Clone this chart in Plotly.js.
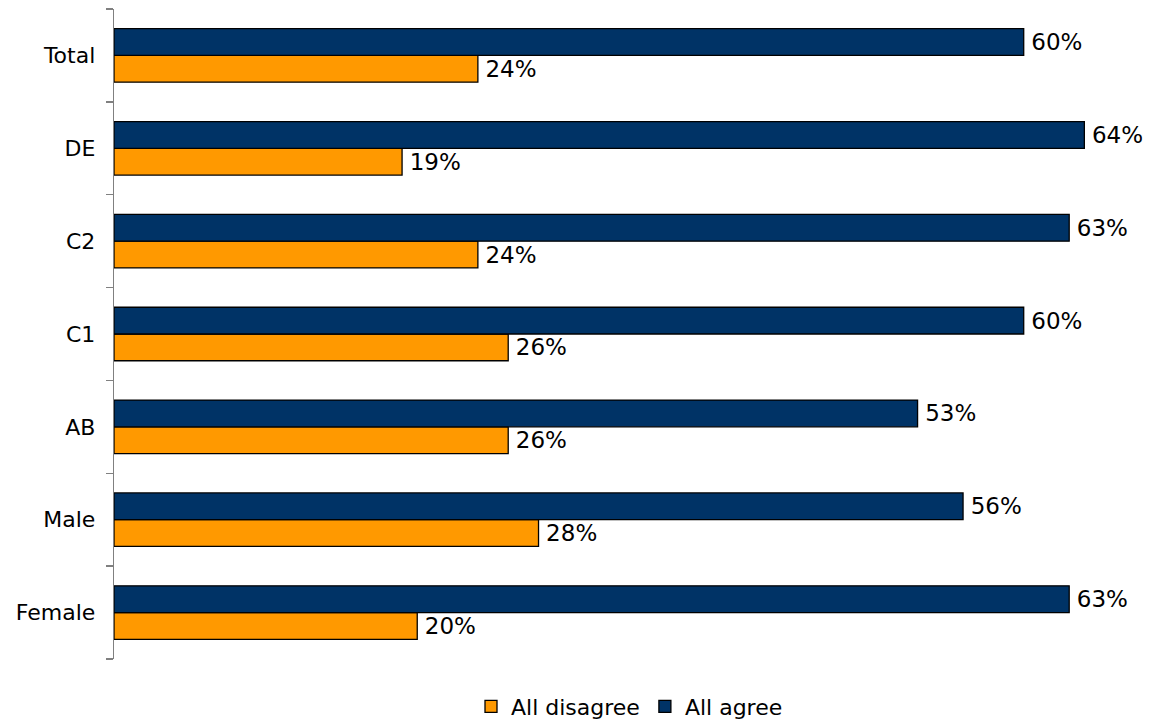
<!DOCTYPE html>
<html>
<head>
<meta charset="utf-8">
<script src="https://cdn.plot.ly/plotly-3.0.1.min.js"></script>
<style>html,body{margin:0;padding:0;background:#fff;}#chart{width:1154px;height:724px;}</style>
</head>
<body>
<div id="chart"></div>
<script>
// Categories, top to bottom as shown
const categories = ["Total", "DE", "C2", "C1", "AB", "Male", "Female"];
const allAgree = [60, 64, 63, 60, 53, 56, 63];
const allDisagree = [24, 19, 24, 26, 26, 28, 20];
const seriesNames = ["All disagree", "All agree"];

// Plotly draws categories bottom-up, so reverse for display
const cats = categories.slice().reverse();
const agree = allAgree.slice().reverse();
const disagree = allDisagree.slice().reverse();

const font = "DejaVu Sans, Tahoma, sans-serif";
const lbl = v => "\u2009" + v + "%";

const traces = [
  {
    type: "bar", orientation: "h", name: seriesNames[0],
    y: cats, x: disagree,
    text: disagree.map(lbl), textposition: "outside", constraintext: "none",
    textfont: {family: font, size: 23, color: "#000"},
    marker: {color: "#FF9900", line: {color: "#000", width: 1.3}},
    cliponaxis: false, hoverinfo: "skip"
  },
  {
    type: "bar", orientation: "h", name: seriesNames[1],
    y: cats, x: agree,
    text: agree.map(lbl), textposition: "outside", constraintext: "none",
    textfont: {family: font, size: 23, color: "#000"},
    marker: {color: "#003366", line: {color: "#000", width: 1.3}},
    cliponaxis: false, hoverinfo: "skip"
  }
];

const layout = {
  width: 1154, height: 724,
  margin: {l: 114, r: 9, t: 9, b: 65, autoexpand: false},
  paper_bgcolor: "#fff", plot_bgcolor: "#fff",
  barmode: "group", bargap: 0.424, bargroupgap: 0,
  font: {family: font, size: 22, color: "#000"},
  showlegend: true,
  legend: {orientation: "h", x: 0.5, xanchor: "center", yref: "container", y: 0.024, yanchor: "middle",
           font: {family: font, size: 22, color: "#000"}, traceorder: "normal",
           itemwidth: 30},
  xaxis: {range: [0, 68], visible: false, showgrid: false, zeroline: false, fixedrange: true},
  yaxis: {type: "category", showline: true, linecolor: "#808080", linewidth: 1.3,
          ticks: "outside", ticklen: 7, tickcolor: "#808080", tickwidth: 1.3,
          tickson: "boundaries", showgrid: false, zeroline: false,
          tickfont: {family: font, size: 22, color: "#000"}, ticklabelstandoff: 13, fixedrange: true},
  hovermode: false
};

Plotly.newPlot("chart", traces, layout, {displayModeBar: false, staticPlot: true});
</script>
</body>
</html>
